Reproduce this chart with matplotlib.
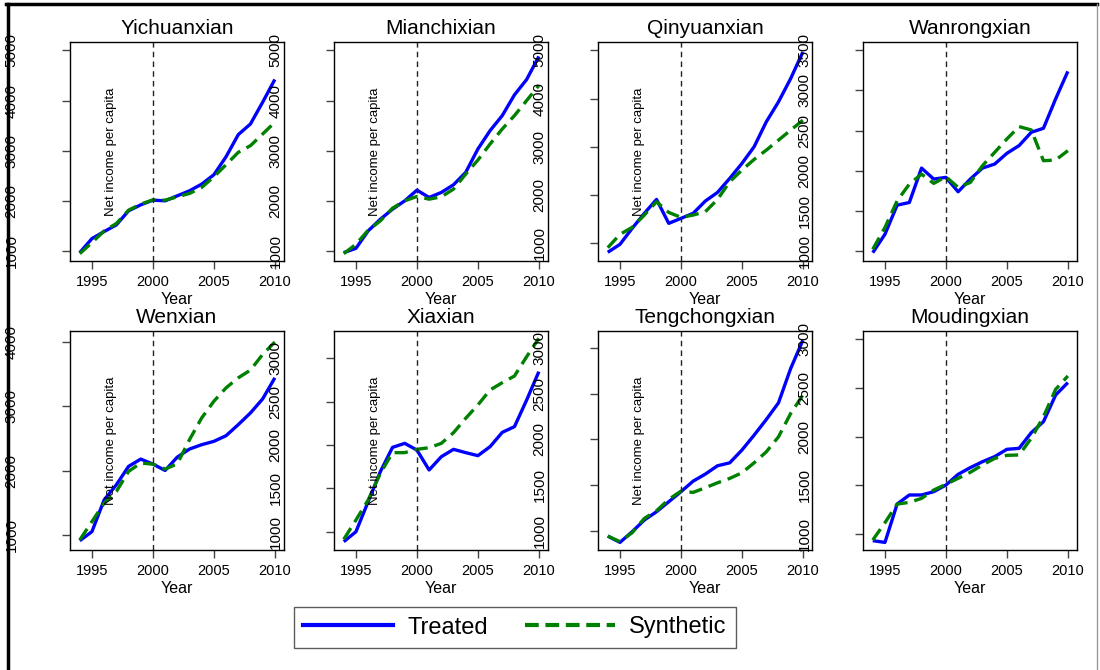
import matplotlib
matplotlib.use("Agg")
import matplotlib.pyplot as plt
from matplotlib.lines import Line2D

plt.rcParams['font.family'] = ['Liberation Sans', 'DejaVu Sans']

years = list(range(1994, 2011))

county_names = ["Yichuanxian", "Mianchixian", "Qinyuanxian", "Wanrongxian",
                "Wenxian", "Xiaxian", "Tengchongxian", "Moudingxian"]

yichuanxian_treated = [967, 1247, 1387, 1520, 1800, 1920, 2013, 2000, 2100,
                       2200, 2333, 2520, 2880, 3320, 3533, 3967, 4420]
yichuanxian_synthetic = [947, 1167, 1400, 1547, 1813, 1933, 2020, 2013, 2080,
                         2147, 2267, 2480, 2720, 2967, 3100, 3333, 3567]

mianchixian_treated = [967, 1053, 1400, 1633, 1833, 2000, 2213, 2067, 2167,
                       2320, 2567, 3033, 3400, 3700, 4113, 4420, 4880]
mianchixian_synthetic = [947, 1133, 1413, 1600, 1853, 2000, 2087, 2033, 2080,
                         2233, 2533, 2813, 3133, 3433, 3700, 4000, 4300]

qinyuanxian_treated = [814, 979, 1310, 1621, 1910, 1414, 1517, 1621, 1876,
                       2055, 2345, 2655, 3000, 3517, 3931, 4414, 4966]
qinyuanxian_synthetic = [910, 1186, 1331, 1586, 1862, 1641, 1538, 1586, 1655,
                         1910, 2276, 2517, 2738, 2931, 3138, 3345, 3552]

wanrongxian_treated = [979, 1208, 1571, 1604, 2033, 1896, 1917, 1738, 1896,
                       2033, 2083, 2217, 2313, 2479, 2529, 2896, 3238]
wanrongxian_synthetic = [1021, 1292, 1625, 1833, 1958, 1842, 1925, 1792, 1854,
                         2063, 2229, 2396, 2550, 2508, 2125, 2133, 2250]

wenxian_treated = [910, 1052, 1546, 1780, 2066, 2180, 2102, 2003, 2211,
                   2336, 2404, 2456, 2544, 2716, 2898, 3116, 3444]
wenxian_synthetic = [922, 1208, 1494, 1676, 1988, 2118, 2102, 2024, 2107,
                     2482, 2820, 3080, 3288, 3444, 3564, 3808, 4000]

xiaxian_treated = [885, 1000, 1346, 1692, 1973, 2019, 1942, 1712, 1865,
                   1950, 1912, 1877, 1981, 2146, 2212, 2519, 2846]
xiaxian_synthetic = [912, 1135, 1365, 1673, 1912, 1912, 1950, 1969, 2019,
                     2142, 2308, 2462, 2635, 2719, 2796, 3019, 3231]

tengchongxian_treated = [945, 876, 993, 1120, 1211, 1320, 1429, 1545, 1622,
                         1713, 1745, 1884, 2047, 2218, 2400, 2775, 3084]
tengchongxian_synthetic = [945, 884, 982, 1138, 1222, 1345, 1436, 1422, 1473,
                           1527, 1575, 1636, 1745, 1865, 2029, 2284, 2484]

moudingxian_treated = [932, 914, 1308, 1401, 1401, 1435, 1503, 1613, 1682,
                       1743, 1795, 1870, 1880, 2041, 2154, 2428, 2555]
moudingxian_synthetic = [938, 1116, 1308, 1325, 1366, 1452, 1510, 1572, 1634,
                         1709, 1777, 1808, 1812, 1983, 2205, 2486, 2623]

treated = [yichuanxian_treated, mianchixian_treated, qinyuanxian_treated,
           wanrongxian_treated, wenxian_treated, xiaxian_treated,
           tengchongxian_treated, moudingxian_treated]
synthetic = [yichuanxian_synthetic, mianchixian_synthetic, qinyuanxian_synthetic,
             wanrongxian_synthetic, wenxian_synthetic, xiaxian_synthetic,
             tengchongxian_synthetic, moudingxian_synthetic]

y_ticks = [
    [1000, 2000, 3000, 4000, 5000],
    [1000, 2000, 3000, 4000, 5000],
    [1000, 2000, 3000, 4000, 5000],
    [1000, 1500, 2000, 2500, 3000, 3500],
    [1000, 2000, 3000, 4000],
    [1000, 1500, 2000, 2500, 3000],
    [1000, 1500, 2000, 2500, 3000],
    [1000, 1500, 2000, 2500, 3000],
]
y_limits = [(800, 5167), (800, 5167), (634, 5172), (875, 3604),
            (766, 4172), (789, 3315), (793, 3185), (836, 3085)]
x_ticks = [1995, 2000, 2005, 2010]
treatment_year = 2000

blue = "#0000ff"
green = "#008000"

W, H = 1100, 670
fig = plt.figure(figsize=(W / 100, H / 100), dpi=100)

col_left = [70, 334, 598, 863]
row_top = [42, 331]
panel_w = 214
panel_h = 219


def draw_panel(ax, k):
    ax.plot(years, treated[k], color=blue, lw=2.4, solid_capstyle='butt')
    ax.plot(years, synthetic[k], color=green, lw=2.4, dashes=(4, 2.1))
    ax.axvline(treatment_year, color="#222222", lw=1.0, dashes=(4, 3))
    ax.set_xlim(1993.2, 2010.75)
    ax.set_ylim(*y_limits[k])
    ax.set_xticks(x_ticks)
    ax.set_yticks(y_ticks[k])
    ax.tick_params(axis='x', length=6, width=1, pad=4, labelsize=10.5,
                   color="#444444")
    ax.tick_params(axis='y', length=6, width=1, pad=31, labelsize=11,
                   labelrotation=90, color="#444444")
    for label in ax.get_yticklabels():
        label.set_verticalalignment('center')
    for spine in ax.spines.values():
        spine.set_linewidth(1.0)
        spine.set_color("black")
    ax.set_title(county_names[k], fontsize=15, pad=6)
    ax.set_xlabel("Year", fontsize=11.5, labelpad=2)
    if k % 4 != 3:
        ax.text(0.19, 0.5, "Net income per capita", transform=ax.transAxes,
                rotation=90, ha='center', va='center', fontsize=9.5)


for k in range(8):
    r, c = divmod(k, 4)
    left = col_left[c] / W
    bottom = 1 - (row_top[r] + panel_h) / H
    ax = fig.add_axes([left, bottom, panel_w / W, panel_h / H])
    draw_panel(ax, k)

# legend below the panels
handles = [Line2D([0], [0], color=blue, lw=3),
           Line2D([0], [0], color=green, lw=3, dashes=(3.3, 1.6))]
fig.legend(handles, ["Treated", "Synthetic"], loc='center',
           bbox_to_anchor=(515 / W, 1 - 627.5 / H), ncol=2, fontsize=17,
           frameon=True, fancybox=False, edgecolor="#333333",
           handlelength=3.8, handletextpad=0.6, columnspacing=1.6,
           borderpad=0.4)

# outer frame of the graph
fig.add_artist(Line2D([7.5 / W, 7.5 / W], [0, 1 - 4 / H], color="black",
                      lw=2.5, transform=fig.transFigure))
fig.add_artist(Line2D([6 / W, 1097 / W], [1 - 4 / H, 1 - 4 / H], color="black",
                      lw=2.5, transform=fig.transFigure))
fig.add_artist(Line2D([1097 / W, 1097 / W], [0, 1 - 4 / H], color="#999999",
                      lw=1.0, transform=fig.transFigure))

fig.savefig("out.png", dpi=100)
